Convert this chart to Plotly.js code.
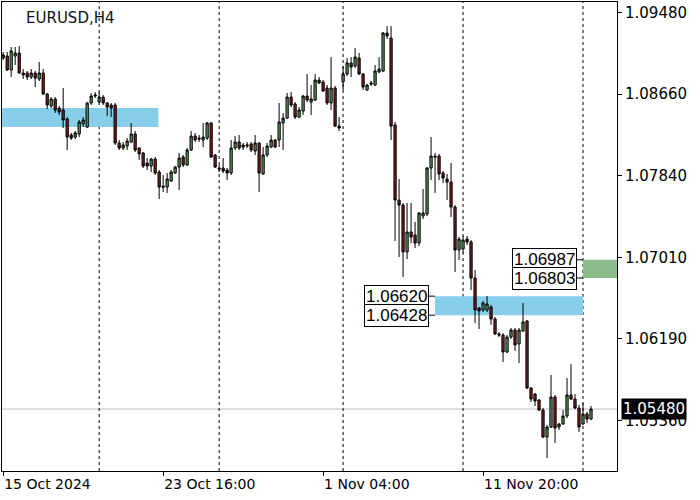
<!DOCTYPE html>
<html>
<head>
<meta charset="utf-8">
<script src="https://cdn.plot.ly/plotly-3.0.1.min.js"></script>
<style>html,body{margin:0;padding:0;background:#fff}#chart{width:700px;height:500px}</style>
</head>
<body>
<div id="chart"></div>
<script>
// ---- data (EURUSD H4 candles) ----
const open = [
1.09025,1.09045,1.08904,1.09045,1.09076,1.08874,1.08874,1.08833,1.08874,1.08813,
1.08874,1.08662,1.08540,1.08611,1.08520,1.08500,1.08409,1.08248,1.08227,1.08258,
1.08359,1.08328,1.08571,1.08641,1.08581,1.08631,1.08571,1.08551,1.08551,1.08167,
1.08116,1.08136,1.08177,1.08258,1.08116,1.08066,1.07965,1.07934,1.08005,1.07874,
1.07732,1.07722,1.07783,1.07864,1.07924,1.08025,1.07945,1.08096,1.08237,1.08217,
1.08197,1.08217,1.08369,1.08046,1.07914,1.07914,1.07894,1.07864,1.08116,1.08177,
1.08147,1.08136,1.08157,1.08086,1.08167,1.07854,1.08046,1.08126,1.08197,1.08197,
1.08369,1.08419,1.08631,1.08561,1.08429,1.08490,1.08641,1.08581,1.08601,1.08803,
1.08783,1.08722,1.08571,1.08722,1.08338,1.08783,1.08864,1.08975,1.08944,1.09025,
1.08864,1.08702,1.08773,1.08753,1.08884,1.08894,1.09278,1.09227,1.08349,1.07591,
1.07540,1.07066,1.07268,1.07238,1.07157,1.07429,1.07450,1.07914,1.08035,1.08035,
1.07864,1.07803,1.07773,1.07520,1.07086,1.07096,1.07197,1.07167,1.06803,1.06500,
1.06480,1.06480,1.06510,1.06389,1.06238,1.06227,1.06056,1.06207,1.06278,1.06137,
1.06268,1.06369,1.05692,1.05632,1.05571,1.05470,1.05197,1.05298,1.05601,1.05298,
1.05329,1.05409,1.05622,1.05581,1.05490,1.05329,1.05430,1.05379
];
const high = [
1.09086,1.09086,1.09136,1.09136,1.09146,1.08914,1.08894,1.08914,1.08894,1.08985,
1.08914,1.08672,1.08631,1.08631,1.08540,1.08722,1.08429,1.08268,1.08288,1.08399,
1.08429,1.08581,1.08672,1.08682,1.08682,1.08652,1.08581,1.08571,1.08571,1.08197,
1.08177,1.08217,1.08369,1.08288,1.08126,1.08076,1.08015,1.08015,1.08025,1.07894,
1.07844,1.07864,1.07894,1.07934,1.08066,1.08046,1.08116,1.08288,1.08268,1.08248,
1.08369,1.08379,1.08379,1.08056,1.07945,1.08015,1.07914,1.08197,1.08237,1.08248,
1.08167,1.08177,1.08177,1.08248,1.08177,1.08126,1.08167,1.08248,1.08207,1.08571,
1.08470,1.08672,1.08682,1.08581,1.08530,1.08652,1.08864,1.08753,1.08864,1.08833,
1.08803,1.08753,1.09035,1.08742,1.08429,1.08944,1.09025,1.09035,1.09126,1.09076,
1.08874,1.08763,1.08793,1.08955,1.09035,1.09288,1.09348,1.09348,1.08379,1.07803,
1.07561,1.07561,1.07561,1.07369,1.07470,1.07702,1.07924,1.08227,1.08066,1.08056,
1.07884,1.07854,1.07965,1.07540,1.07217,1.07227,1.07227,1.07187,1.06884,1.06510,
1.06571,1.06621,1.06531,1.06409,1.06258,1.06248,1.06227,1.06298,1.06298,1.06298,
1.06551,1.06379,1.05702,1.05642,1.05581,1.05490,1.05319,1.05824,1.05622,1.05339,
1.05470,1.05793,1.05935,1.05632,1.05521,1.05541,1.05450,1.05510
];
const low = [
1.09005,1.08894,1.08833,1.08955,1.08864,1.08813,1.08803,1.08813,1.08732,1.08793,
1.08652,1.08510,1.08520,1.08470,1.08450,1.08318,1.08096,1.08197,1.08207,1.08227,
1.08328,1.08318,1.08551,1.08621,1.08571,1.08551,1.08439,1.08429,1.08147,1.08096,
1.08096,1.08096,1.08167,1.08076,1.07995,1.07914,1.07894,1.07874,1.07844,1.07601,
1.07672,1.07662,1.07773,1.07854,1.07692,1.07924,1.07934,1.08086,1.08177,1.08177,
1.08126,1.08197,1.08015,1.07914,1.07874,1.07864,1.07793,1.07844,1.08096,1.08096,
1.08096,1.08116,1.08076,1.08046,1.07672,1.07844,1.08025,1.08116,1.08116,1.08126,
1.08096,1.08409,1.08530,1.08409,1.08419,1.08450,1.08581,1.08450,1.08591,1.08763,
1.08682,1.08551,1.08500,1.08328,1.08288,1.08702,1.08843,1.08833,1.08924,1.08854,
1.08702,1.08692,1.08742,1.08742,1.08874,1.08884,1.09217,1.08197,1.07177,1.07015,
1.06813,1.06995,1.07157,1.07106,1.07126,1.07399,1.07429,1.07793,1.07662,1.07793,
1.07763,1.07591,1.07419,1.06864,1.06985,1.07056,1.07137,1.06682,1.06349,1.06288,
1.06460,1.06460,1.06329,1.06227,1.06207,1.05955,1.06046,1.06187,1.06066,1.05945,
1.06258,1.05682,1.05551,1.05510,1.05460,1.05187,1.04985,1.05288,1.05137,1.05268,
1.05319,1.05389,1.05571,1.05480,1.05248,1.05319,1.05339,1.05369
];
const close = [
1.09056,1.08904,1.09096,1.09076,1.08874,1.08854,1.08833,1.08874,1.08823,1.08874,
1.08662,1.08551,1.08611,1.08500,1.08480,1.08399,1.08227,1.08217,1.08268,1.08379,
1.08399,1.08571,1.08641,1.08652,1.08631,1.08571,1.08530,1.08520,1.08167,1.08116,
1.08147,1.08187,1.08258,1.08096,1.08056,1.07934,1.07934,1.08005,1.07864,1.07722,
1.07722,1.07803,1.07874,1.07924,1.08015,1.07945,1.08096,1.08237,1.08197,1.08207,
1.08227,1.08369,1.08025,1.07924,1.07904,1.07884,1.07864,1.08116,1.08177,1.08116,
1.08126,1.08147,1.08096,1.08167,1.07864,1.08046,1.08136,1.08197,1.08126,1.08379,
1.08419,1.08631,1.08551,1.08429,1.08500,1.08641,1.08601,1.08611,1.08803,1.08773,
1.08692,1.08571,1.08722,1.08338,1.08318,1.08864,1.08975,1.08934,1.09035,1.08864,
1.08732,1.08753,1.08763,1.08894,1.08914,1.09278,1.09247,1.08338,1.07591,1.07540,
1.07066,1.07268,1.07217,1.07157,1.07460,1.07460,1.07914,1.08035,1.08025,1.07854,
1.07813,1.07773,1.07520,1.07086,1.07197,1.07187,1.07167,1.06803,1.06480,1.06470,
1.06551,1.06541,1.06389,1.06238,1.06227,1.06056,1.06207,1.06278,1.06127,1.06278,
1.06359,1.05692,1.05581,1.05561,1.05470,1.05197,1.05298,1.05601,1.05288,1.05329,
1.05409,1.05622,1.05581,1.05490,1.05298,1.05430,1.05379,1.05480
];

// time-axis labels (bar index -> label)
const xTickIdx = [0, 40, 80, 120];
const xTickText = ['15 Oct 2024', '23 Oct 16:00', '1 Nov 04:00', '11 Nov 20:00'];
// price-axis labels
const yTickVals = [1.09480, 1.08660, 1.07840, 1.07010, 1.06190, 1.05360];
// weekly period separators (bar index)
const separatorIdx = [24, 54, 85, 115, 145];
// rectangle zones
const zoneTop = [1.08520, 1.06620, 1.06987];
const zoneBottom = [1.08328, 1.06428, 1.06803];
const zoneStart = [-0.3, 108, 145];
const zoneEnd = [38.8, 145, 153.5];
const zoneLabelled = [false, true, true];
const currentPrice = 1.05480;
const symbolTitle = 'EURUSD,H4';

// ---- chart ----
const idx = open.map((_, i) => i);
const X_RANGE = [-0.3, 153.5];
const Y_RANGE = [1.04854, 1.09591];
const zoneColors = ['#87ceeb', '#87ceeb', '#8fbc8f'];

const shapes = [];
zoneTop.forEach((t, k) => {
  shapes.push({type: 'rect', xref: 'x', yref: 'y', x0: zoneStart[k], x1: zoneEnd[k],
    y0: zoneBottom[k], y1: t, fillcolor: zoneColors[k], line: {width: 0}, layer: 'below'});
});
shapes.push({type: 'line', xref: 'paper', yref: 'y', x0: 0, x1: 1, y0: currentPrice, y1: currentPrice,
  line: {color: '#c0c0c0', width: 1}, layer: 'below'});
separatorIdx.forEach(s => {
  shapes.push({type: 'line', xref: 'x', yref: 'paper', x0: s, x1: s, y0: 0, y1: 1,
    line: {color: '#000', width: 1, dash: '3px,3px'}, layer: 'below'});
});

const annotations = [];
zoneTop.forEach((t, k) => {
  if (!zoneLabelled[k]) return;
  [t, zoneBottom[k]].forEach(p => {
    annotations.push({x: zoneStart[k], y: p, xref: 'x', yref: 'y', text: p.toFixed(5),
      showarrow: true, arrowhead: 0, arrowwidth: 1, arrowcolor: '#000', ax: -6, ay: 0,
      xanchor: 'right', yanchor: 'middle', bgcolor: '#fff', bordercolor: '#000',
      borderwidth: 1, borderpad: 1,
      font: {family: 'Liberation Sans, Arial, sans-serif', size: 17, color: '#000'}});
  });
});
annotations.push({x: 1, y: currentPrice, xref: 'paper', yref: 'y', text: currentPrice.toFixed(5),
  showarrow: false, xanchor: 'left', yanchor: 'middle', xshift: 4, bgcolor: '#000',
  borderpad: 1, font: {family: 'DejaVu Sans, sans-serif', size: 15, color: '#fff'}});

const trace = {
  type: 'candlestick', x: idx, open: open, high: high, low: low, close: close,
  increasing: {line: {color: '#000', width: 1}, fillcolor: '#5e9e5e'},
  decreasing: {line: {color: '#000', width: 1}, fillcolor: '#8b1a1a'},
  whiskerwidth: 0, hoverinfo: 'skip', showlegend: false
};

const layout = {
  width: 700, height: 500,
  margin: {l: 2, r: 83, t: 2, b: 29},
  paper_bgcolor: '#fff', plot_bgcolor: '#fff',
  boxgap: 0.2,
  showlegend: false,
  title: {text: symbolTitle, x: 26 / 700, xanchor: 'left', xref: 'container',
    y: 1 - 18 / 500, yanchor: 'middle', yref: 'container',
    font: {family: 'DejaVu Sans, sans-serif', size: 15, color: '#111'}},
  xaxis: {
    range: X_RANGE, rangeslider: {visible: false}, showgrid: false, zeroline: false,
    showline: true, mirror: true, linecolor: '#000', linewidth: 1,
    tickmode: 'array', tickvals: xTickIdx, ticktext: xTickText,
    ticks: 'outside', ticklen: 4, tickcolor: '#000', ticklabelposition: 'outside right',
    tickfont: {family: 'DejaVu Sans, sans-serif', size: 14, color: '#000'}
  },
  yaxis: {
    range: Y_RANGE, side: 'right', showgrid: false, zeroline: false,
    showline: true, mirror: true, linecolor: '#000', linewidth: 1,
    tickmode: 'array', tickvals: yTickVals, ticktext: yTickVals.map(v => v.toFixed(5)),
    ticks: 'outside', ticklen: 4, tickcolor: '#000',
    tickfont: {family: 'DejaVu Sans, sans-serif', size: 15, color: '#000'}
  },
  shapes: shapes,
  annotations: annotations
};

Plotly.newPlot('chart', [trace], layout, {staticPlot: true, displayModeBar: false});
</script>
</body>
</html>
